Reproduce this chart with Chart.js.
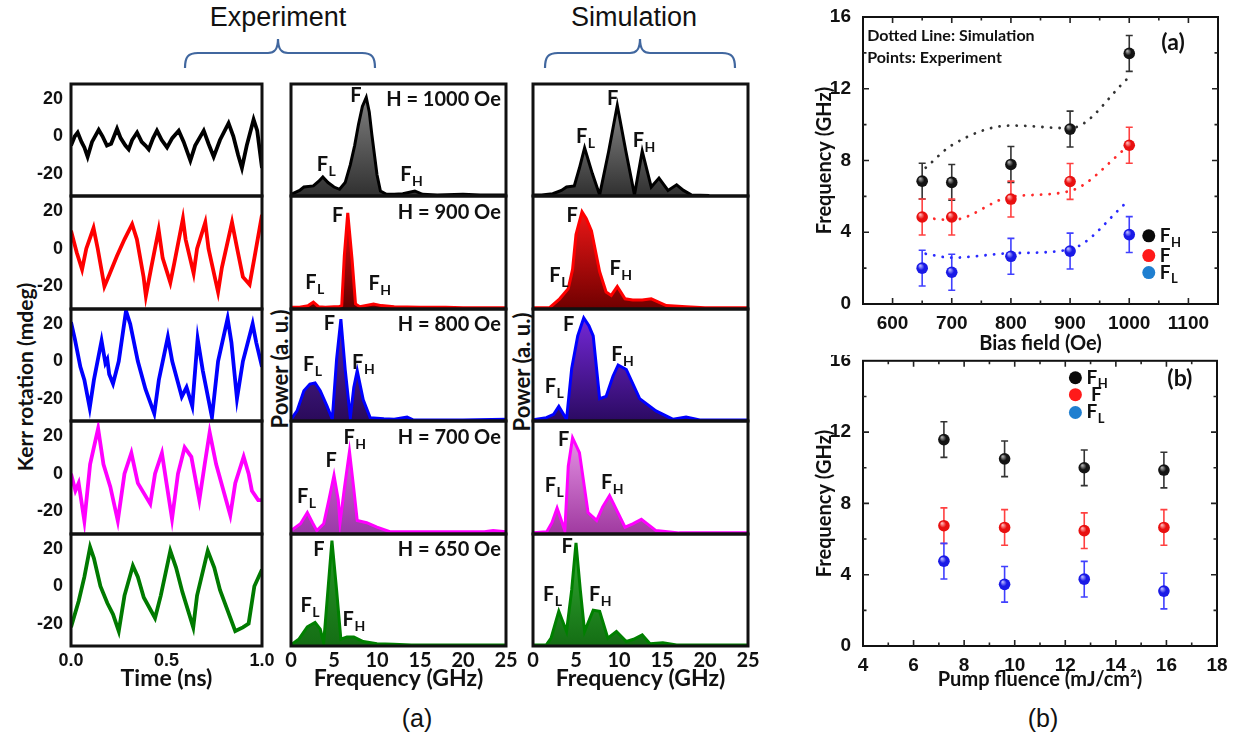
<!DOCTYPE html>
<html>
<head>
<meta charset="utf-8">
<title>Kerr rotation and spin-wave spectra</title>
<script src="https://cdn.jsdelivr.net/npm/chart.js@4.4.1/dist/chart.umd.min.js"></script>
<style>
  body { margin: 0; width: 1239px; height: 738px; background: #fff; position: relative; overflow: hidden; }
  canvas { position: absolute; }
  .txt { position: absolute; white-space: nowrap; color: #111; }
  .ctr { transform: translate(-50%, -50%); }
  .vert { transform: translate(-50%, -50%) rotate(-90deg); }
  .head { font: 27px 'Liberation Sans', Arial, sans-serif; }
  .ttl { font: bold 22px Lato, 'Noto Sans', sans-serif; }
</style>
</head>
<body>
<div class="txt ctr head" style="left:278px;top:17px">Experiment</div>
<div class="txt ctr head" style="left:634px;top:17px">Simulation</div>
<svg width="1239" height="80" style="position:absolute;left:0;top:0">
  <g fill="none" stroke="#41679f" stroke-width="2.2">
    <path d="M185 68 C185 57 188 53 198 53 L268 53 C274 53 278 50 278 39 C278 50 282 53 288 53 L362 53 C372 53 375 57 375 68"/>
    <path d="M545 68 C545 57 548 53 558 53 L630 53 C636 53 640 50 640 39 C640 50 644 53 650 53 L722 53 C732 53 735 57 735 68"/>
  </g>
</svg>
<div class="txt vert ttl" style="left:24px;top:377px;font-size:21px">Kerr rotation (mdeg)</div>
<div class="txt vert ttl" style="left:279px;top:369px">Power (a. u.)</div>
<div class="txt vert ttl" style="left:521px;top:372px">Power (a. u.)</div>
<div class="txt ctr head" style="left:417px;top:718px;font-size:25px">(a)</div>
<div class="txt ctr head" style="left:1043px;top:718px;font-size:25px">(b)</div>

<script>
// ---- time traces (ns, mdeg) ----
const t1000 = [0, 0.02, 0.035, 0.055, 0.07, 0.087, 0.11, 0.145, 0.165, 0.188, 0.21, 0.241, 0.26, 0.285, 0.302, 0.32, 0.346, 0.37, 0.39, 0.407, 0.43, 0.45, 0.475, 0.503, 0.53, 0.564, 0.59, 0.625, 0.65, 0.695, 0.72, 0.747, 0.78, 0.825, 0.85, 0.875, 0.895, 0.92, 0.956, 0.975, 1.0];
const kerr1000 = [-5, 0, 2, -3, -6, -11, -3, 3.5, 0, -5, -4, 4, -1, -5, -7, -2, 2, -3, -5, -7, -1, 3, -2, -6, -1, 3, -3, -13, -5, 3, -4, -11, -2, 7, 0, -10, -17, -5, 9, 3, -17];
const t900 = [0, 0.03, 0.058, 0.08, 0.118, 0.14, 0.175, 0.2, 0.24, 0.28, 0.32, 0.345, 0.38, 0.392, 0.42, 0.459, 0.48, 0.52, 0.54, 0.586, 0.6, 0.642, 0.66, 0.703, 0.72, 0.77, 0.79, 0.843, 0.87, 0.9, 0.935, 0.96, 1.0];
const kerr900 = [9.5, -2, -11, 0, 11, 0, -20, -14, -4, 5, 13, 5, -15, -25, -10, 10, -5, -18, -8, 16, 5, -13, 0, 14, 0, -23, -10, 14, 0, -15, -19, -5, 18];
const t800 = [0, 0.02, 0.049, 0.07, 0.098, 0.12, 0.16, 0.18, 0.19, 0.2, 0.22, 0.25, 0.288, 0.31, 0.35, 0.39, 0.436, 0.46, 0.507, 0.53, 0.58, 0.605, 0.635, 0.663, 0.69, 0.738, 0.77, 0.82, 0.84, 0.869, 0.9, 0.951, 0.97, 1.0];
const kerr800 = [21, 12, -3, -10, -25, -10, 11, -1, 1, -7, -12, 0, 27, 20, 0, -15, -28, -10, 13, 0, -19, -14, -24, 12, -5, -30, 0, 23, 10, -20, 0, 20, 10, -3];
const t700 = [0, 0.023, 0.04, 0.07, 0.1, 0.142, 0.17, 0.206, 0.245, 0.28, 0.316, 0.35, 0.415, 0.44, 0.476, 0.5, 0.529, 0.56, 0.595, 0.63, 0.672, 0.7, 0.726, 0.76, 0.834, 0.86, 0.904, 0.93, 0.947, 0.98, 1.0];
const kerr700 = [0, -9, -5, -25, 5, 24, 5, -7, -25, 0, 11, -5, -16, 0, 11, -5, -24, 0, 14, 9, -14, 5, 22, 5, -22, -5, 9, 0, -9, -14, -14];
const t650 = [0, 0.04, 0.07, 0.1, 0.12, 0.154, 0.19, 0.22, 0.25, 0.28, 0.324, 0.35, 0.381, 0.44, 0.47, 0.52, 0.55, 0.583, 0.64, 0.66, 0.716, 0.75, 0.78, 0.86, 0.9, 0.93, 0.96, 1.0];
const kerr650 = [-22, -8, 5, 21, 15, 0, -9, -15, -24, -5, 11, 5, -6, -17, -5, 19, 10, -3, -22, -5, 19, 10, -2, -24, -22, -20, 0, 9];
const kerrTicks = [-20, 0, 20];

// ---- experimental spectra (GHz, normalised power) ----
const fExp1000 = [0, 1, 1.5, 2.6, 3.2, 3.7, 4.3, 5.0, 5.65, 6.3, 6.9, 7.4, 7.85, 8.3, 8.75, 9.1, 9.4, 10, 10.4, 11.1, 12, 13, 14.4, 15.3, 17, 20, 22, 25];
const pExp1000 = [0.015, 0.05, 0.08, 0.09, 0.13, 0.17, 0.12, 0.08, 0.06, 0.12, 0.28, 0.45, 0.64, 0.8, 0.88, 0.75, 0.55, 0.19, 0.045, 0.015, 0.015, 0.02, 0.045, 0.015, 0.01, 0.015, 0.01, 0.01];
const fExp900 = [0, 1, 2, 2.6, 3.2, 4, 5, 5.6, 5.9, 6.2, 6.6, 7.1, 7.5, 8, 8.6, 9.6, 10.5, 12, 15, 18, 20, 22, 25];
const pExp900 = [0.015, 0.015, 0.03, 0.06, 0.02, 0.015, 0.02, 0.02, 0.03, 0.47, 0.85, 0.44, 0.045, 0.02, 0.03, 0.045, 0.03, 0.02, 0.015, 0.015, 0.01, 0.01, 0.01];
const fExp800 = [0, 0.7, 1.5, 2.2, 2.8, 3.4, 4.2, 4.8, 5.3, 5.8, 6.3, 6.9, 7.3, 7.7, 8.4, 9.2, 10.8, 12, 13.5, 14.2, 16, 20, 25];
const pExp800 = [0.015, 0.09, 0.27, 0.33, 0.34, 0.27, 0.13, 0.015, 0.55, 0.91, 0.46, 0.03, 0.3, 0.45, 0.19, 0.03, 0.02, 0.015, 0.035, 0.01, 0.01, 0.01, 0.015];
const fExp700 = [0, 1.1, 1.9, 2.5, 3.0, 3.8, 4.4, 5.0, 5.5, 5.7, 6.2, 6.8, 7.3, 7.7, 8.8, 10, 11.5, 13, 16, 20, 22.5, 23.5, 25];
const pExp700 = [0.03, 0.09, 0.19, 0.1, 0.03, 0.09, 0.3, 0.52, 0.3, 0.1, 0.4, 0.73, 0.4, 0.12, 0.1, 0.06, 0.02, 0.02, 0.02, 0.02, 0.02, 0.03, 0.02];
const fExp650 = [0, 0.9, 1.9, 2.8, 3.4, 3.8, 4.4, 4.76, 5.3, 5.8, 6.5, 7.3, 8.4, 10, 11.9, 14, 18, 25];
const pExp650 = [0.01, 0.06, 0.17, 0.21, 0.15, 0.03, 0.6, 0.94, 0.5, 0.06, 0.08, 0.08, 0.04, 0.02, 0.015, 0.01, 0.01, 0.01];

// ---- simulated spectra ----
const fSim1000 = [0, 1, 2.3, 3.3, 3.9, 4.8, 5.4, 6.0, 6.9, 7.75, 8.8, 9.8, 10.8, 11.8, 12.7, 13.75, 14.65, 15.7, 16.7, 17.5, 18.4, 20.5];
const pSim1000 = [0.01, 0.01, 0.02, 0.05, 0.08, 0.09, 0.25, 0.43, 0.2, 0.01, 0.4, 0.81, 0.4, 0.01, 0.4, 0.08, 0.16, 0.05, 0.1, 0.05, 0.01, 0.005];
const fSim900 = [0, 1.9, 3.1, 4.1, 4.6, 5.0, 5.7, 6.2, 6.8, 7.75, 8.5, 9.1, 9.8, 10.7, 11.6, 12.7, 13.75, 15.5, 17.8, 20, 25];
const pSim900 = [0.01, 0.01, 0.09, 0.18, 0.35, 0.66, 0.86, 0.8, 0.69, 0.33, 0.15, 0.12, 0.2, 0.09, 0.08, 0.08, 0.09, 0.03, 0.02, 0.01, 0.01];
const fSim800 = [0, 1.55, 2.4, 3.0, 3.9, 4.5, 5.2, 5.9, 6.5, 7.0, 7.75, 8.5, 9.3, 9.9, 10.85, 12.4, 14.3, 16.3, 17.8, 19.4, 25];
const pSim800 = [0.01, 0.03, 0.06, 0.13, 0.015, 0.47, 0.76, 0.92, 0.85, 0.76, 0.2, 0.22, 0.4, 0.5, 0.46, 0.2, 0.09, 0.015, 0.035, 0.01, 0.01];
const fSim700 = [0, 1.6, 2.2, 2.8, 3.7, 4.1, 4.6, 5.4, 6.4, 7.4, 8.1, 8.9, 9.8, 10.7, 11.6, 12.6, 14.3, 17, 25];
const pSim700 = [0.01, 0.02, 0.1, 0.23, 0.03, 0.6, 0.85, 0.72, 0.19, 0.12, 0.24, 0.34, 0.2, 0.06, 0.09, 0.13, 0.03, 0.01, 0.01];
const fSim650 = [0, 1.55, 2.1, 3.0, 3.9, 4.5, 5.0, 5.5, 6.0, 7.0, 7.75, 8.7, 9.7, 10.85, 11.7, 12.7, 13.6, 15.1, 16.7, 25];
const pSim650 = [0.01, 0.01, 0.07, 0.31, 0.13, 0.5, 0.92, 0.5, 0.13, 0.32, 0.31, 0.07, 0.13, 0.04, 0.06, 0.1, 0.02, 0.03, 0.01, 0.01];
const fieldNames = ['H = 1000 Oe', 'H = 900 Oe', 'H = 800 Oe', 'H = 700 Oe', 'H = 650 Oe'];

// ---- frequency vs bias field ----
const biasField = [650, 700, 800, 900, 1000];
const fhBias = [6.85, 6.78, 7.78, 9.75, 13.97];
const fBias = [4.85, 4.85, 5.85, 6.83, 8.85];
const flBias = [2.0, 1.77, 2.66, 2.95, 3.87];
const errBias = [1, 1, 1, 1, 1];
const simField = [656, 700, 800, 900, 1000];
const simFH = [7.6, 8.85, 9.95, 9.8, 12.65];
const simF = [4.8, 4.68, 5.98, 6.3, 8.85];
const simFL = [2.8, 2.58, 2.83, 3.05, 5.8];
const biasTicks = [600, 700, 800, 900, 1000, 1100];

// ---- frequency vs pump fluence ----
const fluence = [7.2, 9.6, 12.75, 15.9];
const fhPump = [11.58, 10.5, 10.0, 9.87];
const fPump = [6.75, 6.65, 6.47, 6.65];
const flPump = [4.76, 3.46, 3.75, 3.08];
const errPump = [1, 1, 1, 1];
const fluenceTicks = [4, 6, 8, 10, 12, 14, 16, 18];

const TOPS = [84, 196, 309, 421, 534, 646];
const INK = '#111';
const LABEL_FAMILY = "Lato, 'Noto Sans', sans-serif";
const NUM_FONT = { family: "'Liberation Sans', Arial, sans-serif", weight: 'bold', size: 18 };
const TITLE_FONT = { family: LABEL_FAMILY, weight: 'bold', size: 23 };

function xy(xs, ys) { return xs.map((x, i) => ({ x, y: ys[i] })); }

function makeCanvas(left, top, w, h) {
  const c = document.createElement('canvas');
  c.width = w; c.height = h;
  c.style.cssText = `left:${left}px;top:${top}px;width:${w}px;height:${h}px`;
  document.body.appendChild(c);
  return c;
}

function drawSub(ctx, x, y, main, sub, size) {
  ctx.font = `bold ${size}px ${LABEL_FAMILY}`;
  ctx.fillText(main, x, y);
  if (!sub) return;
  const w = ctx.measureText(main).width;
  ctx.font = `bold ${Math.round(size * 0.68)}px ${LABEL_FAMILY}`;
  ctx.fillText(sub, x + w + 0.5, y + size * 0.25);
}

// keep tick labels from shrinking the plot box
function fixY(width) {
  return s => { s.width = width; s.paddingTop = 0; s.paddingBottom = 0; };
}

// frame round the plot area
const boxPlugin = {
  id: 'box',
  defaults: { width: 3, color: '#111' },
  afterDraw(chart, args, opts) {
    const { ctx, chartArea: a } = chart;
    ctx.save();
    ctx.lineWidth = opts.width; ctx.strokeStyle = opts.color;
    ctx.strokeRect(a.left, a.top, a.right - a.left, a.bottom - a.top);
    ctx.restore();
  }
};

// F, FL, FH labels and field value inside the spectra
const peakPlugin = {
  id: 'peaks',
  afterDatasetsDraw(chart, args, opts) {
    if (!opts.items) return;
    const { ctx, scales: { x, y } } = chart;
    ctx.save();
    ctx.fillStyle = INK; ctx.textBaseline = 'alphabetic'; ctx.textAlign = 'left';
    opts.items.forEach(([main, sub, gx, gy]) => drawSub(ctx, x.getPixelForValue(gx), y.getPixelForValue(gy), main, sub, 20));
    if (opts.field) {
      ctx.textAlign = 'right';
      ctx.font = `bold 20px ${LABEL_FAMILY}`;
      ctx.fillText(opts.field, x.getPixelForValue(24.4), y.getPixelForValue(0.8));
    }
    ctx.restore();
  }
};

// inward major/minor ticks on all four sides
const inTickPlugin = {
  id: 'inTicks',
  afterDraw(chart, args, opts) {
    if (!opts.on) return;
    const { ctx, chartArea: a, scales: { x, y } } = chart;
    ctx.save(); ctx.strokeStyle = '#222'; ctx.lineWidth = 1.6;
    [x, y].forEach(s => {
      const vals = s.ticks.map(t => t.value);
      const step = vals[1] - vals[0];
      const marks = vals.map(v => [v, 6]);
      for (let v = vals[0] - step / 2; v < s.max; v += step) marks.push([v, 3.5]);
      marks.forEach(([v, len]) => {
        if (v <= s.min || v >= s.max) return;
        const p = s.getPixelForValue(v);
        ctx.beginPath();
        if (s === x) {
          ctx.moveTo(p, a.bottom); ctx.lineTo(p, a.bottom - len);
          ctx.moveTo(p, a.top); ctx.lineTo(p, a.top + len);
        } else {
          ctx.moveTo(a.left, p); ctx.lineTo(a.left + len, p);
          ctx.moveTo(a.right, p); ctx.lineTo(a.right - len, p);
        }
        ctx.stroke();
      });
    });
    ctx.restore();
  }
};

// vertical error bars, drawn under the points
const errPlugin = {
  id: 'errBars',
  beforeDatasetsDraw(chart) {
    const { ctx, scales: { x, y } } = chart;
    ctx.save(); ctx.lineWidth = 1.6;
    chart.data.datasets.forEach(ds => {
      if (!ds.yErr) return;
      ctx.strokeStyle = ds.barColor;
      ds.data.forEach((d, i) => {
        const px = x.getPixelForValue(d.x);
        const hi = y.getPixelForValue(d.y + ds.yErr[i]), lo = y.getPixelForValue(d.y - ds.yErr[i]);
        ctx.beginPath();
        ctx.moveTo(px, hi); ctx.lineTo(px, lo);
        ctx.moveTo(px - 3.5, hi); ctx.lineTo(px + 3.5, hi);
        ctx.moveTo(px - 3.5, lo); ctx.lineTo(px + 3.5, lo);
        ctx.stroke();
      });
    });
    ctx.restore();
  }
};

// legend keys and notes placed in data coordinates
const notePlugin = {
  id: 'notes',
  afterDraw(chart, args, opts) {
    const { ctx, scales: { x, y } } = chart;
    ctx.save(); ctx.fillStyle = INK;
    (opts.keys || []).forEach(k => {
      const px = x.getPixelForValue(k.x), py = y.getPixelForValue(k.y);
      ctx.fillStyle = k.color;
      ctx.beginPath(); ctx.arc(px, py, 6.5, 0, Math.PI * 2); ctx.fill();
      ctx.fillStyle = INK; ctx.textAlign = 'left'; ctx.textBaseline = 'alphabetic';
      drawSub(ctx, px + 11, py + 6, k.main, k.sub, 19);
    });
    (opts.texts || []).forEach(t => {
      ctx.font = t.font; ctx.textAlign = t.align || 'left'; ctx.textBaseline = 'middle';
      ctx.fillText(t.text, x.getPixelForValue(t.x), y.getPixelForValue(t.y));
    });
    ctx.restore();
  }
};

Chart.register(boxPlugin, peakPlugin, inTickPlugin, errPlugin, notePlugin);

function vGrad(lo, hi) {
  return ctx => {
    const a = ctx.chart.chartArea;
    if (!a) return lo;
    const g = ctx.chart.ctx.createLinearGradient(0, a.bottom, 0, a.top);
    g.addColorStop(0, lo); g.addColorStop(1, hi);
    return g;
  };
}

function timePanel(i, t, v, color) {
  const top = TOPS[i], h = TOPS[i + 1] - top, last = i === 4, xH = last ? 46 : 0;
  const c = makeCanvas(0, top - 3, 290, h + 3 + (last ? xH : 3));
  new Chart(c, {
    type: 'line',
    data: { datasets: [{ data: xy(t, v), borderColor: color, borderWidth: 3.8, pointRadius: 0, tension: 0 }] },
    options: {
      responsive: false, animation: false, events: [],
      layout: { padding: { left: 0, right: 28, top: 3, bottom: last ? 0 : 3 } },
      plugins: { legend: { display: false }, tooltip: { enabled: false } },
      scales: {
        x: {
          type: 'linear', min: 0, max: 1, display: last,
          grid: { display: false, drawTicks: false }, border: { display: false },
          ticks: { stepSize: 0.5, callback: val => val.toFixed(1), font: NUM_FONT, color: INK, padding: 4, maxRotation: 0 },
          title: { display: true, text: 'Time (ns)', font: TITLE_FONT, color: INK, padding: { top: 0, bottom: 0 } },
          afterFit: s => { s.height = xH; }
        },
        y: {
          min: -32, max: 28,
          afterBuildTicks: s => { s.ticks = kerrTicks.map(value => ({ value })); },
          grid: { display: false, drawTicks: false }, border: { display: false },
          ticks: { font: NUM_FONT, color: INK, padding: 8 },
          afterFit: fixY(71)
        }
      }
    }
  });
}

function spectrumPanel(left, i, f, p, line, lo, hi, labels, field) {
  const top = TOPS[i], h = TOPS[i + 1] - top, last = i === 4, xH = last ? 46 : 0;
  const c = makeCanvas(left, top - 3, 262, h + 3 + (last ? xH : 3));
  new Chart(c, {
    type: 'line',
    data: { datasets: [{ data: xy(f, p), borderColor: line, borderWidth: 3, pointRadius: 0, tension: 0, fill: 'origin', backgroundColor: vGrad(lo, hi) }] },
    options: {
      responsive: false, animation: false, events: [],
      layout: { padding: { left: 21, right: 26, top: 3, bottom: last ? 0 : 3 } },
      plugins: { legend: { display: false }, tooltip: { enabled: false }, peaks: { items: labels, field } },
      scales: {
        x: {
          type: 'linear', min: 0, max: 25, display: last,
          grid: { display: false, drawTicks: false }, border: { display: false },
          ticks: { stepSize: 5, font: { family: LABEL_FAMILY, weight: 'bold', size: 20 }, color: INK, padding: 3, maxRotation: 0 },
          title: { display: true, text: 'Frequency (GHz)', font: TITLE_FONT, color: INK, padding: { top: 0, bottom: 0 } },
          afterFit: s => { s.height = xH; }
        },
        y: { min: 0, max: 1, display: false }
      }
    }
  });
}

timePanel(0, t1000, kerr1000, '#000000');
timePanel(1, t900, kerr900, '#ff0000');
timePanel(2, t800, kerr800, '#0000ff');
timePanel(3, t700, kerr700, '#ff00ff');
timePanel(4, t650, kerr650, '#007a00');

// label anchors: [main, subscript, GHz, height]
const expLabels = [
  [['F', '', 6.9, 0.836], ['F', 'L', 3.0, 0.224], ['F', 'H', 12.7, 0.134]],
  [['F', '', 4.76, 0.77], ['F', 'L', 1.66, 0.18], ['F', 'H', 9.0, 0.17]],
  [['F', '', 3.8, 0.81], ['F', 'L', 1.4, 0.45], ['F', 'H', 7.1, 0.46]],
  [['F', '', 4.0, 0.59], ['F', 'L', 0.7, 0.27], ['F', 'H', 6.1, 0.8]],
  [['F', '', 2.6, 0.8], ['F', 'L', 1.1, 0.3], ['F', 'H', 6.0, 0.18]]
];
const simLabels = [
  [['F', '', 8.6, 0.81], ['F', 'L', 5.0, 0.47], ['F', 'H', 11.6, 0.44]],
  [['F', '', 3.9, 0.77], ['F', 'L', 1.9, 0.24], ['F', 'H', 8.9, 0.3]],
  [['F', '', 3.5, 0.8], ['F', 'L', 1.36, 0.25], ['F', 'H', 9.1, 0.54]],
  [['F', '', 2.9, 0.78], ['F', 'L', 1.36, 0.37], ['F', 'H', 7.9, 0.4]],
  [['F', '', 3.3, 0.83], ['F', 'L', 1.16, 0.4], ['F', 'H', 6.5, 0.4]]
];

spectrumPanel(270, 0, fExp1000, pExp1000, '#000000', '#303030', '#8a8a8a', expLabels[0], fieldNames[0]);
spectrumPanel(270, 1, fExp900, pExp900, '#ff0000', '#600000', '#ff1010', expLabels[1], fieldNames[1]);
spectrumPanel(270, 2, fExp800, pExp800, '#0000ff', '#2a0a5a', '#5a2aa8', expLabels[2], fieldNames[2]);
spectrumPanel(270, 3, fExp700, pExp700, '#ff00ff', '#9a3aa8', '#e070e0', expLabels[3], fieldNames[3]);
spectrumPanel(270, 4, fExp650, pExp650, '#008000', '#146e14', '#2a9a2a', expLabels[4], fieldNames[4]);

spectrumPanel(512, 0, fSim1000, pSim1000, '#000000', '#303030', '#9a9a9a', simLabels[0], null);
spectrumPanel(512, 1, fSim900, pSim900, '#ff0000', '#700000', '#ff1a1a', simLabels[1], null);
spectrumPanel(512, 2, fSim800, pSim800, '#0000ff', '#2b0a62', '#7a2ae0', simLabels[2], null);
spectrumPanel(512, 3, fSim700, pSim700, '#ff00ff', '#a03aa0', '#f0a0f0', simLabels[3], null);
spectrumPanel(512, 4, fSim650, pSim650, '#008000', '#146e14', '#36b036', simLabels[4], null);

// ---- right-hand scatter charts ----
function sphere(base, light) {
  return ctx => {
    if (ctx.type !== 'data' || !ctx.raw) return base;
    const ch = ctx.chart;
    const px = ch.scales.x.getPixelForValue(ctx.raw.x), py = ch.scales.y.getPixelForValue(ctx.raw.y);
    if (!Number.isFinite(px) || !Number.isFinite(py)) return base;
    const g = ch.ctx.createRadialGradient(px - 2, py - 2.5, 0.5, px, py, 6);
    g.addColorStop(0, light); g.addColorStop(0.5, base); g.addColorStop(1, base);
    return g;
  };
}

function pointSet(xs, ys, err, base, light, bar) {
  return {
    type: 'scatter', data: xy(xs, ys), yErr: err, barColor: bar, order: 0,
    pointRadius: 5.8, pointBorderWidth: 0, pointBackgroundColor: sphere(base, light)
  };
}

function simSet(xs, ys, color) {
  return {
    type: 'line', data: xy(xs, ys), order: 1, borderColor: color, borderWidth: 2.8,
    borderDash: [0.1, 8.5], borderCapStyle: 'round', pointRadius: 0, fill: false,
    tension: 0.4, cubicInterpolationMode: 'monotone'
  };
}

function axes(xMin, xMax, xTicks, xTitle, xH) {
  return {
    x: {
      type: 'linear', min: xMin, max: xMax,
      afterBuildTicks: s => { s.ticks = xTicks.map(value => ({ value })); },
      grid: { display: false, drawTicks: false }, border: { display: false },
      ticks: { callback: val => String(val), font: { ...NUM_FONT, size: 19 }, color: INK, padding: 8, maxRotation: 0 },
      title: { display: true, text: xTitle, font: { ...TITLE_FONT, size: 20 }, color: INK, padding: { top: 0, bottom: 0 } },
      afterFit: s => { s.height = xH; }
    },
    y: {
      min: 0, max: 16,
      ticks: { stepSize: 4, font: { ...NUM_FONT, size: 19 }, color: INK, padding: 12 },
      grid: { display: false, drawTicks: false }, border: { display: false },
      title: { display: true, text: 'Frequency (GHz)', font: { ...TITLE_FONT, size: 20 }, color: INK, padding: { top: 13, bottom: 0 } },
      afterFit: fixY(63)
    }
  };
}

const keyColors = { h: '#0a0a0a', m: '#ff1a1a', l: '#1f7fd0' };

new Chart(makeCanvas(800, 0, 439, 356), {
  type: 'scatter',
  data: {
    datasets: [
      pointSet(biasField, fhBias, errBias, '#141414', '#a8a8a8', '#333'),
      pointSet(biasField, fBias, errBias, '#e81010', '#ffb0b0', '#ff4040'),
      pointSet(biasField, flBias, errBias, '#1a1ae6', '#b0b0ff', '#4040ff'),
      simSet(simField, simFH, '#333'),
      simSet(simField, simF, '#ff2a2a'),
      simSet(simField, simFL, '#2a2aff')
    ]
  },
  options: {
    responsive: false, animation: false, events: [],
    layout: { padding: { left: 0, right: 21, top: 17, bottom: 0 } },
    plugins: {
      legend: { display: false }, tooltip: { enabled: false },
      box: { width: 2 }, inTicks: { on: true },
      notes: {
        keys: [
          { x: 1033, y: 3.8, color: keyColors.h, main: 'F', sub: 'H' },
          { x: 1033, y: 2.7, color: keyColors.m, main: 'F', sub: '' },
          { x: 1033, y: 1.75, color: keyColors.l, main: 'F', sub: 'L' }
        ],
        texts: [
          { x: 557, y: 14.94, text: 'Dotted Line: Simulation', font: `bold 16px ${LABEL_FAMILY}` },
          { x: 557, y: 13.71, text: 'Points: Experiment', font: `bold 16px ${LABEL_FAMILY}` },
          { x: 1074, y: 14.55, text: '(a)', font: `bold 23px ${LABEL_FAMILY}`, align: 'center' }
        ]
      }
    },
    scales: axes(550, 1150, biasTicks, 'Bias field (Oe)', 52)
  }
});

new Chart(makeCanvas(800, 355, 439, 337), {
  type: 'scatter',
  data: {
    datasets: [
      pointSet(fluence, fhPump, errPump, '#141414', '#a8a8a8', '#333'),
      pointSet(fluence, fPump, errPump, '#e81010', '#ffb0b0', '#ff4040'),
      pointSet(fluence, flPump, errPump, '#1a1ae6', '#b0b0ff', '#4040ff')
    ]
  },
  options: {
    responsive: false, animation: false, events: [],
    layout: { padding: { left: 0, right: 22, top: 4, bottom: 0 } },
    plugins: {
      legend: { display: false }, tooltip: { enabled: false },
      box: { width: 2 }, inTicks: { on: true },
      notes: {
        keys: [
          { x: 12.4, y: 15.05, color: keyColors.h, main: 'F', sub: 'H' },
          { x: 12.4, y: 14.1, color: keyColors.m, main: ' F', sub: '' },
          { x: 12.4, y: 13.1, color: keyColors.l, main: 'F', sub: 'L' }
        ],
        texts: [
          { x: 16.53, y: 15.0, text: '(b)', font: `bold 23px ${LABEL_FAMILY}`, align: 'center' }
        ]
      }
    },
    scales: axes(4, 18, fluenceTicks, 'Pump fluence (mJ/cm²)', 46)
  }
});
</script>
</body>
</html>
